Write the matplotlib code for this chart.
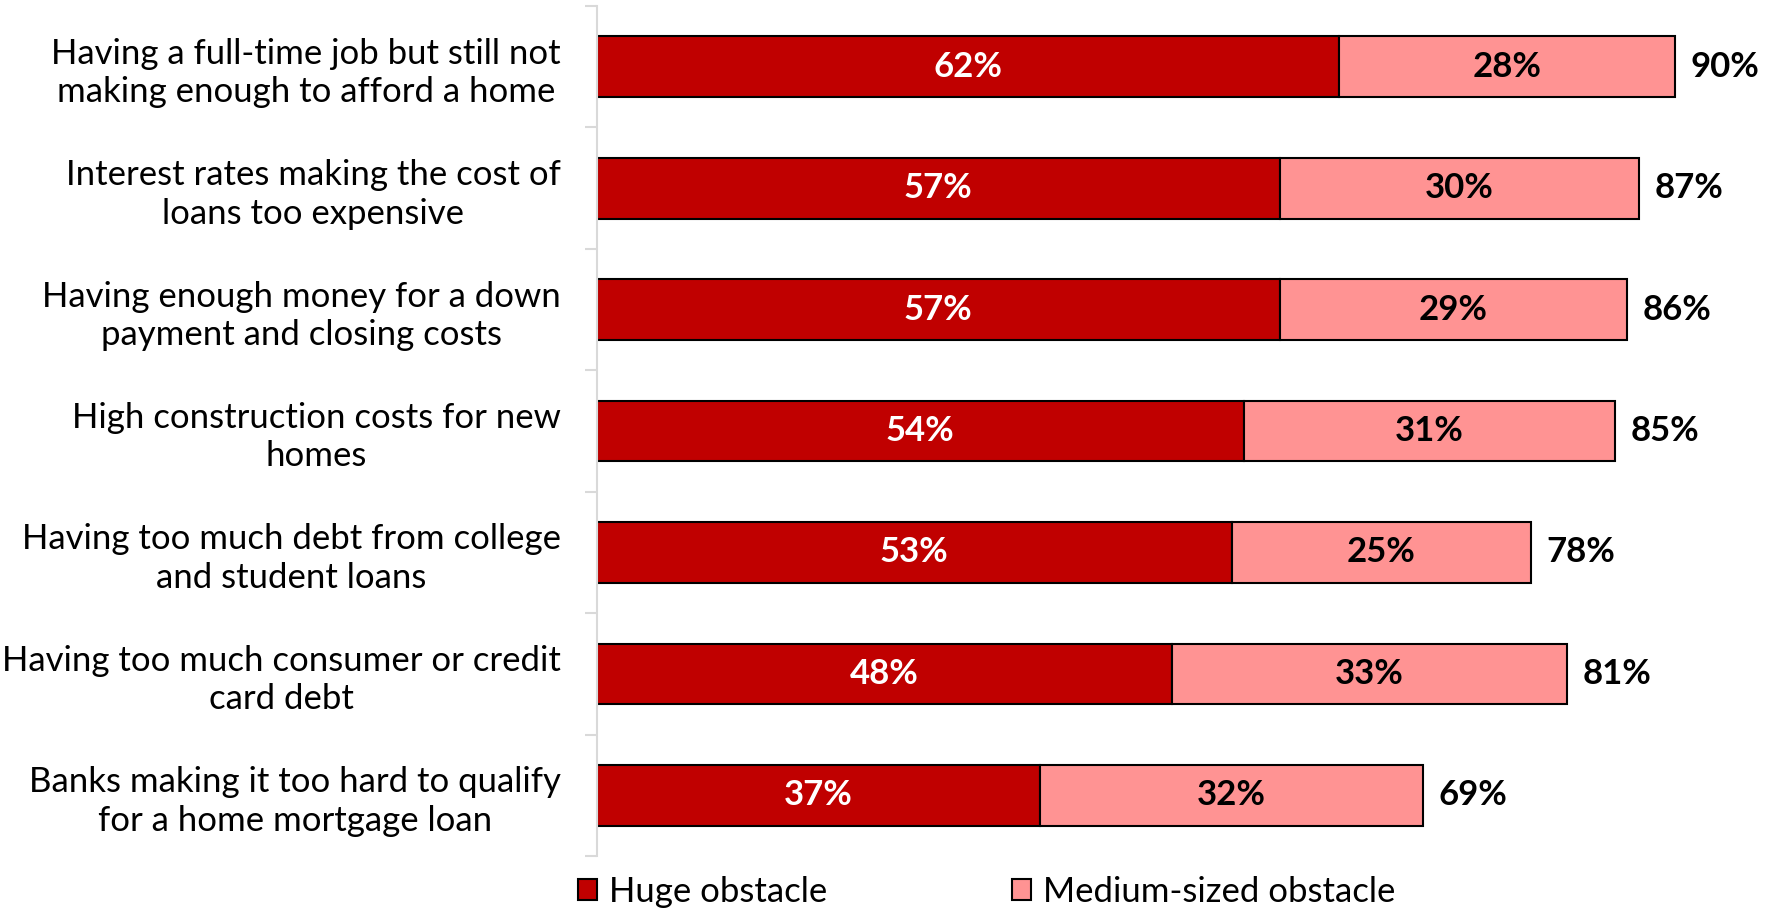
import matplotlib.pyplot as plt
import numpy as np

plt.rcParams['font.family'] = ['Lato', 'DejaVu Sans']

categories = [
    'Having a full-time job but still not\nmaking enough to afford a home',
    'Interest rates making the cost of\nloans too expensive',
    'Having enough money for a down\npayment and closing costs',
    'High construction costs for new\nhomes',
    'Having too much debt from college\nand student loans',
    'Having too much consumer or credit\ncard debt',
    'Banks making it too hard to qualify\nfor a home mortgage loan',
]
huge = [62, 57, 57, 54, 53, 48, 37]
medium = [28, 30, 29, 31, 25, 33, 32]
totals = [90, 87, 86, 85, 78, 81, 69]
series_names = ['Huge obstacle', 'Medium-sized obstacle']

dark = '#C00000'
light = '#FF9393'
fs = 25

fig = plt.figure(figsize=(17.73, 9.10), dpi=100)
ax = fig.add_axes([597 / 1773, 54 / 910, 1 - 597 / 1773, 850 / 910])

y = np.arange(len(categories))
h = 0.5
b1 = ax.barh(y, huge, height=h, color=dark, edgecolor='black', linewidth=1.5,
             label=series_names[0])
b2 = ax.barh(y, medium, left=huge, height=h, color=light, edgecolor='black',
             linewidth=1.5, label=series_names[1])

for i in range(len(categories)):
    ax.text(huge[i] / 2, y[i], f'{huge[i]}%', ha='center', va='center',
            color='white', fontsize=fs, fontweight='bold')
    ax.text(huge[i] + medium[i] / 2, y[i], f'{medium[i]}%', ha='center',
            va='center', color='black', fontsize=fs, fontweight='bold')
    ax.text(totals[i] + 1.3, y[i], f'{totals[i]}%', ha='left', va='center',
            color='black', fontsize=fs, fontweight='bold')

ax.set_xlim(0, 98.2)
ax.set_ylim(len(categories) - 0.5, -0.5)
ax.set_yticks(y)
ax.set_yticklabels(categories, fontsize=fs, ha='right', multialignment='center',
                   linespacing=1.25)
ax.tick_params(axis='y', which='major', length=0, pad=26)
ax.set_yticks(np.arange(-0.5, len(categories), 1), minor=True)
ax.tick_params(axis='y', which='minor', length=8.6, color='#D9D9D9', width=1.5)
ax.set_xticks([])
for s in ['top', 'right', 'bottom']:
    ax.spines[s].set_visible(False)
ax.spines['left'].set_color('#D9D9D9')
ax.spines['left'].set_linewidth(1.5)

leg = fig.legend(handles=[b1, b2], loc='center left',
                 bbox_to_anchor=(578 / 1773, 1 - 892 / 910),
                 ncol=2, frameon=False, fontsize=fs, handlelength=0.55,
                 handleheight=0.55, handletextpad=0.35, columnspacing=5.3,
                 borderpad=0, borderaxespad=0)

fig.savefig('out.png', dpi=100)
